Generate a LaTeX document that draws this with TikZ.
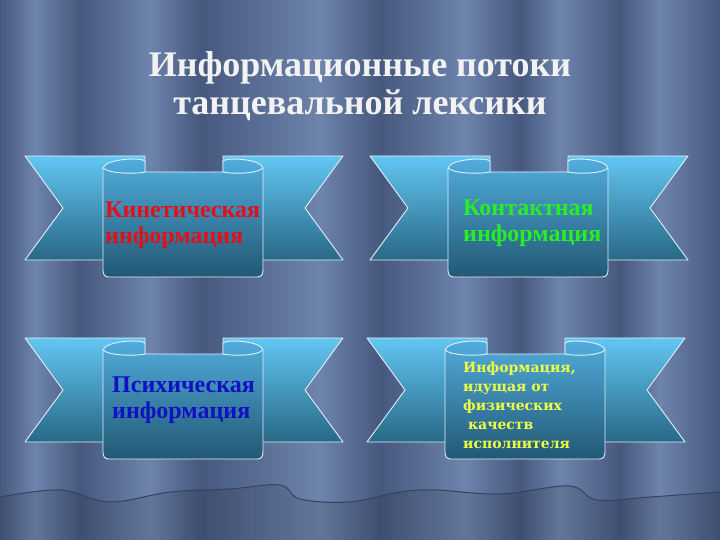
\documentclass[tikz,border=0pt]{standalone}
\usepackage{fontspec}
\setmainfont{Liberation Serif}
\newfontfamily\widefont{DejaVu Serif}
\definecolor{curtaindark}{RGB}{70,88,126}
\definecolor{curtainlight}{RGB}{110,132,172}
\definecolor{ribbontop}{RGB}{98,198,242}
\definecolor{ribbonbot}{RGB}{40,104,134}
\definecolor{paneltop}{RGB}{82,174,222}
\definecolor{panelbot}{RGB}{34,88,116}
\definecolor{edgewhite}{RGB}{225,240,250}
\definecolor{titlewhite}{RGB}{242,242,242}
\definecolor{kinred}{RGB}{226,16,26}
\definecolor{kongreen}{RGB}{40,238,40}
\definecolor{psiblue}{RGB}{16,16,196}
\definecolor{fizyellow}{RGB}{238,255,70}
\tikzset{
  ribbon/.style={draw=edgewhite, line width=0.9pt, top color=ribbontop, bottom color=ribbonbot, line join=round},
  panel/.style={draw=edgewhite, line width=0.9pt, top color=paneltop, bottom color=panelbot},
  curl/.style={draw=edgewhite, line width=0.9pt},
  titletext/.style={font=\bfseries\fontsize{36}{38}\selectfont, text=titlewhite, align=center},
  bannertext/.style={font=\bfseries\fontsize{24}{25.5}\selectfont, align=left, anchor=west, inner sep=0pt},
  smalltext/.style={font=\widefont\bfseries\fontsize{14}{19}\selectfont, align=left, anchor=west, inner sep=0pt},
}
\begin{document}
\begin{tikzpicture}[x=1pt,y=-1pt]
\useasboundingbox (0,0) rectangle (720,540);
% curtain folds
\fill[curtaindark] (0,0) rectangle (720,540);
\foreach \xa/\xm/\xb in {0/35/80, 80/150/200, 200/320/380, 380/465/520, 520/560/620, 620/660/720}{
  \shade[left color=curtaindark, right color=curtainlight] (\xa,0) rectangle (\xm,540);
  \shade[left color=curtainlight, right color=curtaindark] (\xm,0) rectangle (\xb,540);
}
% hem
\fill[black, opacity=0.1] plot[smooth, tension=0.6] coordinates {(0,497) (60,490) (110,502) (170,492) (230,489) (280,485) (300,499) (349,502) (400,492) (436,490) (500,494) (569,486) (597,500) (650,497) (720,492)} -- (720,540) -- (0,540) -- cycle;
\draw[curtaindark!75!black, line width=1pt] plot[smooth, tension=0.6] coordinates {(0,497) (60,490) (110,502) (170,492) (230,489) (280,485) (300,499) (349,502) (400,492) (436,490) (500,494) (569,486) (597,500) (650,497) (720,492)};

\node[titletext] (titel) at (360,86) {Информационные потоки\\танцевальной лексики};

% banners
\foreach \bx/\by in {25/156, 370/156, 25/338, 367/338}{
  \begin{scope}[shift={(\bx,\by)}]
    \draw[ribbon] (0,0) -- (120,0) -- (120,104) -- (0,104) -- (38,52) -- cycle;
    \draw[ribbon] (198,0) -- (318,0) -- (280,52) -- (318,104) -- (198,104) -- cycle;
    \draw[panel] (78,12) .. controls (80,3) and (116,1) .. (120,5) -- (120,16) -- (198,16) -- (198,5)
      .. controls (202,1) and (236,3) .. (238,12) -- (238,114) .. controls (238,119) and (236,121) .. (232,121)
      -- (84,121) .. controls (80,121) and (78,119) .. (78,114) -- cycle;
    \draw[curl] (78,12) .. controls (84,18) and (112,18) .. (120,16);
    \draw[curl] (198,16) .. controls (208,18) and (232,18) .. (238,12);
  \end{scope}
}

\node[bannertext, text=kinred] (kinetic) at (105,225) {Кинетическая\\информация};
\node[bannertext, text=kongreen] (contact) at (463,223) {Контактная\\информация};
\node[bannertext, text=psiblue] (psychic) at (112,400) {Психическая\\информация};
\node[smalltext, text=fizyellow] (physical) at (463,405) {Информация,\\идущая от\\физических\\\ качеств\\исполнителя};
\end{tikzpicture}
\end{document}
